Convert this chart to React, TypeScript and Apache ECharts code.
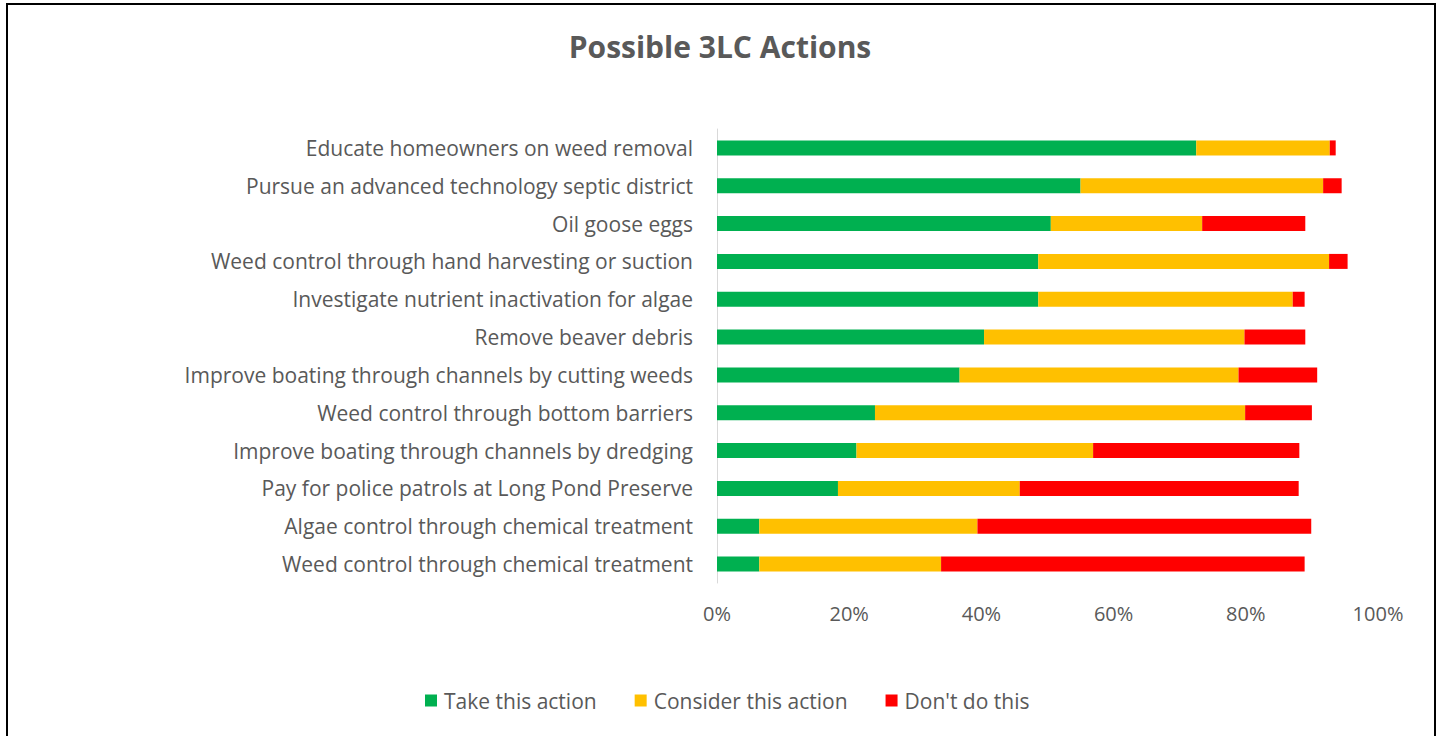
import React, { useEffect, useRef } from "react";
import * as echarts from "echarts";

const categories = [
  "Educate homeowners on weed removal",
  "Pursue an advanced technology septic district",
  "Oil goose eggs",
  "Weed control through hand harvesting or suction",
  "Investigate nutrient inactivation for algae",
  "Remove beaver debris",
  "Improve boating through channels by cutting weeds",
  "Weed control through bottom barriers",
  "Improve boating through channels by dredging",
  "Pay for police patrols at Long Pond Preserve",
  "Algae control through chemical treatment",
  "Weed control through chemical treatment",
];

const takeAction = [72.5, 55.0, 50.5, 48.6, 48.6, 40.4, 36.7, 23.9, 21.1, 18.3, 6.4, 6.4];
const considerAction = [20.2, 36.7, 22.9, 44.0, 38.5, 39.4, 42.2, 56.0, 35.8, 27.5, 33.0, 27.5];
const dontDo = [0.9, 2.8, 15.6, 2.8, 1.8, 9.2, 11.9, 10.1, 31.2, 42.2, 50.5, 55.0];

const xTicks = ["0%", "20%", "40%", "60%", "80%", "100%"];

const FONT = "'Open Sans', 'Noto Sans', sans-serif";
const TEXT = "#595959";

export default function App() {
  const ref = useRef<HTMLDivElement>(null);
  useEffect(() => {
    if (!ref.current) return;
    const chart = echarts.init(ref.current, undefined, { renderer: "svg" });
    const bar = (name: string, data: number[], color: string) => ({
      name,
      type: "bar",
      stack: "total",
      data,
      barWidth: 15,
      itemStyle: { color },
      emphasis: { disabled: true },
    });
    chart.setOption({
      animation: false,
      backgroundColor: "#ffffff",
      title: {
        text: "Possible 3LC Actions",
        left: "center",
        top: 26,
        textStyle: { fontFamily: FONT, fontSize: 30, fontWeight: "bold", color: TEXT },
      },
      legend: {
        bottom: 20,
        left: 420,
        icon: "rect",
        itemWidth: 12,
        itemHeight: 12,
        itemGap: 38,
        textStyle: { fontFamily: FONT, fontSize: 21, color: TEXT, padding: [0, 0, 0, 2] },
        data: ["Take this action", "Consider this action", "Don't do this"],
      },
      grid: { left: 717, right: 62, top: 129, bottom: 153, containLabel: false },
      xAxis: {
        type: "value",
        min: 0,
        max: 100,
        interval: 20,
        axisLine: { show: false },
        axisTick: { show: false },
        splitLine: { show: false },
        axisLabel: {
          margin: 20,
          fontFamily: FONT,
          fontSize: 20,
          color: TEXT,
          formatter: (v: number) => xTicks[Math.round(v / 20)] ?? `${v}%`,
        },
      },
      yAxis: {
        type: "category",
        inverse: true,
        data: categories,
        axisLine: { show: true, lineStyle: { color: "#d9d9d9", width: 1 } },
        axisTick: { show: false },
        axisLabel: { margin: 24, fontFamily: FONT, fontSize: 21, color: TEXT },
      },
      series: [
        bar("Take this action", takeAction, "#00b050"),
        bar("Consider this action", considerAction, "#ffc000"),
        bar("Don't do this", dontDo, "#ff0000"),
      ],
      graphic: [
        {
          type: "rect",
          silent: true,
          shape: { x: 7, y: 4, width: 1428, height: 800 },
          style: { fill: "none", stroke: "#000000", lineWidth: 2 },
        },
      ],
    });
    return () => chart.dispose();
  }, []);
  return (
    <div
      ref={ref}
      style={{ position: "fixed", left: 0, top: 0, width: 1440, height: 736 }}
    />
  );
}
